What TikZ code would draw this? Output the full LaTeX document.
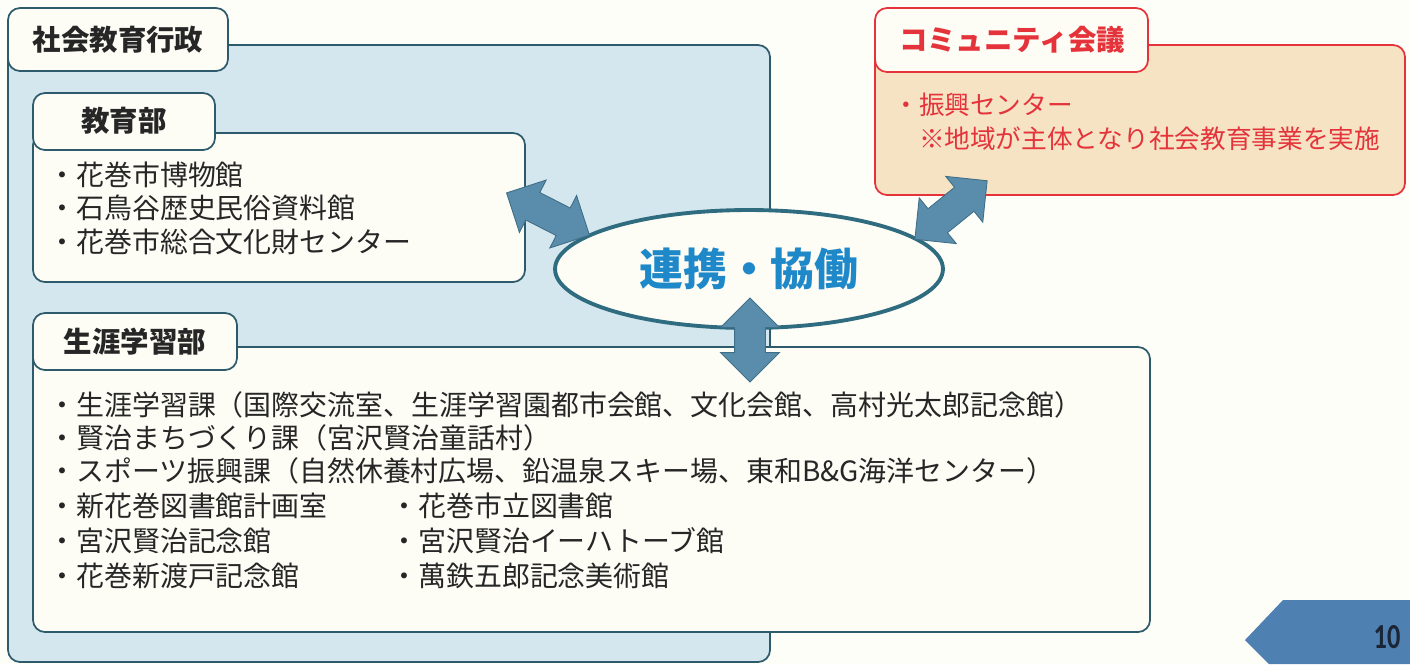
\documentclass[tikz,border=0pt]{standalone}
\usepackage{fontspec}
\setmainfont{Noto Sans CJK JP}
\newfontfamily\pgfont[FakeStretch=0.75]{Carlito}
\usetikzlibrary{shapes.geometric,shapes.arrows}
\definecolor{gyoseifill}{HTML}{D4E7EE}
\definecolor{edgeblue}{HTML}{2E5B6C}
\definecolor{boxfill}{HTML}{FDFDF6}
\definecolor{commfill}{HTML}{F5E3C4}
\definecolor{commred}{HTML}{E5333B}
\definecolor{ellipseedge}{HTML}{2F6C80}
\definecolor{renkeiblue}{HTML}{1F88C9}
\definecolor{arrowfill}{HTML}{5A8DAB}
\definecolor{arrowedge}{HTML}{3F6F88}
\definecolor{tabblue}{HTML}{4E80B2}
\definecolor{pagefg}{HTML}{1A2636}
\definecolor{paper}{HTML}{FEFEF9}
\tikzset{
  frame/.style={draw=edgeblue, line width=1pt, rounded corners=0.24cm},
  tabbox/.style={frame, fill=boxfill},
  ttl/.style={inner sep=0pt, font=\fontsize{16.2}{18}\selectfont\bfseries, text=black!85},
  item/.style={anchor=west, inner sep=0pt, font=\fontsize{15.9}{18}\selectfont, text=black!85},
  commitem/.style={item, font=\fontsize{14.6}{18}\selectfont, text=commred},
  dblarr/.style={double arrow, draw=arrowedge, fill=arrowfill, line width=0.5pt,
    inner xsep=0pt, inner ysep=0.3cm, double arrow head extend=0.28cm}
}
\begin{document}
\begin{tikzpicture}[x=0.02cm,y=-0.02cm]
\useasboundingbox (0,0) rectangle (1410,664);
\fill[paper] (0,0) rectangle (1410,664);
\draw[frame, fill=gyoseifill] (8,45) rectangle (770,662);
\draw[tabbox] (8,8) rectangle (228,71);
\node[ttl] (gyosei) at (118,40) {社会教育行政};
\draw[frame, fill=boxfill] (33,133) rectangle (525,282);
\draw[tabbox] (33,93) rectangle (215,150);
\node[ttl] (kyoiku) at (124,121) {教育部};
\node[item] (hakubutsu) at (48,175) {・花巻市博物館};
\node[item] (ishidoriya) at (48,208) {・石鳥谷歴史民俗資料館};
\node[item] (bunkazai) at (48,242) {・花巻市総合文化財センター};
\draw[frame, fill=boxfill] (33,347) rectangle (1150,632);
\draw[tabbox] (33,313) rectangle (237,370);
\node[ttl] (shogai) at (135,342) {生涯学習部};
\node[item] (gakushu) at (48,405) {・生涯学習課（国際交流室、生涯学習園都市会館、文化会館、高村光太郎記念館）};
\node[item] (kenji) at (48,438) {・賢治まちづくり課（宮沢賢治童話村）};
\node[item] (sports) at (48,471) {・スポーツ振興課（自然休養村広場、鉛温泉スキー場、東和B\&G海洋センター）};
\node[item] (shintosho) at (48,506) {・新花巻図書館計画室};
\node[item] (kinenkan) at (48,541) {・宮沢賢治記念館};
\node[item] (nitobe) at (48,576) {・花巻新渡戸記念館};
\node[item] (shiritsu) at (390,506) {・花巻市立図書館};
\node[item] (ihatov) at (390,541) {・宮沢賢治イーハトーブ館};
\node[item] (yorozu) at (390,576) {・萬鉄五郎記念美術館};
\draw[frame, draw=commred, fill=commfill] (875,45) rectangle (1405,195);
\draw[frame, draw=commred, fill=boxfill] (875,8) rectangle (1148,72);
\node[ttl, text=commred] (community) at (1012,40) {コミュニティ会議};
\node[commitem] (shinko) at (893,105) {・振興センター};
\node[commitem] (chiiki) at (893,139) {　※地域が主体となり社会教育事業を実施};
\node[ellipse, draw=ellipseedge, line width=2.2pt, fill=boxfill, minimum width=7.76cm,
  minimum height=2.36cm, inner sep=0pt, text=renkeiblue,
  font=\fontsize{25}{28}\selectfont\bfseries] (renkei) at (749,269) {連携・協働};
\node[dblarr, rotate=-27, minimum height=1.86cm] (arrkyoiku) at (548,214) {};
\node[dblarr, rotate=39, minimum height=1.86cm] (arrcomm) at (951,210) {};
\node[dblarr, rotate=90, minimum height=1.68cm] (arrshogai) at (750,340) {};
\fill[tabblue] (1283,600) -- (1410,600) -- (1410,664) -- (1269,664) -- (1245,640) -- cycle;
\node[inner sep=0pt, text=pagefg, font=\pgfont\bfseries\fontsize{20}{20}\selectfont] (pagenum) at (1387,637) {10};
\end{tikzpicture}
\end{document}
